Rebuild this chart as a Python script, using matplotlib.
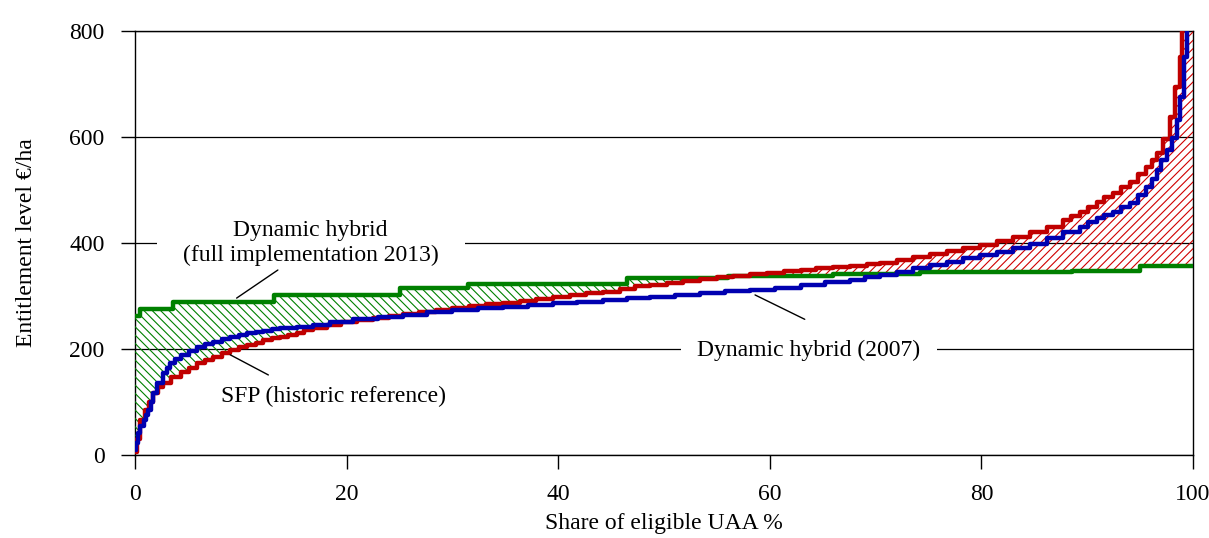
import numpy as np
import matplotlib.pyplot as plt

# step curves (share of UAA %, entitlement EUR/ha)
sfp_x = [0, 0.2, 0.5, 0.9, 1.3, 1.7, 2.2, 2.6, 3.4, 4.3, 5.1, 5.9, 6.6, 7.4, 8.2, 9.0, 9.8,
         10.6, 11.4, 12.1, 12.9, 13.7, 14.5, 15.3, 16.0, 16.8, 18.1, 19.5, 21.0, 22.5, 24.0,
         25.3, 26.8, 28.4, 30.0, 31.6, 33.2, 34.8, 36.4, 37.9, 39.5, 41.1, 42.6, 44.2, 45.8,
         47.3, 48.7, 50.3, 51.8, 53.4, 55.0, 56.5, 58.1, 59.7, 61.3, 62.9, 64.4, 66.0, 67.6,
         69.2, 70.4, 72.0, 73.5, 75.1, 76.7, 78.3, 79.9, 81.5, 83.0, 84.6, 86.2, 87.7, 88.5,
         89.3, 90.1, 90.9, 91.6, 92.4, 93.2, 94.0, 94.8, 95.6, 96.1, 96.6, 97.2, 97.8, 98.3,
         98.8, 99.0, 100]
sfp_y = [5, 30, 66, 85, 100, 117, 128, 136, 147, 157, 165, 173, 179, 185, 192, 198, 203,
         207, 212, 217, 220, 223, 227, 230, 235, 240, 245, 250, 255, 259, 263,
         266, 270, 274, 277, 281, 284, 287, 291, 295, 298, 302, 305, 308, 313,
         318, 321, 325, 329, 332, 335, 338, 341, 344, 347, 349, 352, 355, 357,
         360, 362, 367, 373, 379, 385, 390, 396, 404, 412, 421, 431, 443, 450,
         459, 468, 478, 486, 494, 505, 516, 530, 544, 556, 569, 597, 638, 694,
         751, 1000, 1000]

dh07_x = [0, 0.1, 0.3, 0.5, 0.8, 1.0, 1.2, 1.5, 1.7, 2.1, 2.6, 3.0, 3.3, 3.8, 4.3, 5.1, 5.9,
          6.6, 7.4, 8.2, 9.0, 9.8, 10.6, 11.4, 12.1, 12.9, 13.7, 15.3, 16.8, 18.4, 20.6,
          23.0, 25.3, 27.6, 30.0, 32.4, 34.8, 37.1, 39.5, 41.8, 44.2, 46.5, 48.7, 51.0,
          53.4, 55.8, 58.1, 60.5, 62.9, 65.2, 67.6, 69.0, 70.4, 72.0, 73.5, 75.1, 76.7,
          78.3, 79.9, 81.5, 83.0, 84.6, 86.2, 87.7, 89.3, 90.1, 90.9, 91.6, 92.4, 93.2,
          94.0, 94.8, 95.6, 96.1, 96.6, 97.0, 97.5, 98.0, 98.5, 98.8, 99.1, 99.4, 100]
dh07_y = [10, 23, 41, 55, 66, 75, 85, 100, 117, 136, 155, 165, 173, 182, 189, 197, 204,
          209, 213, 218, 223, 227, 230, 232, 234, 237, 240, 242, 245, 251, 257,
          261, 264, 269, 274, 277, 280, 283, 286, 289, 292, 296, 298, 302,
          306, 309, 311, 316, 321, 326, 330, 335, 340, 346, 352, 358, 365,
          371, 377, 383, 390, 399, 409, 420, 431, 439, 447, 453, 459, 467,
          475, 490, 506, 521, 537, 556, 575, 598, 632, 675, 751, 1000, 1000]

dh13_x = [0, 0.5, 3.6, 13.1, 25.0, 31.5, 46.5, 56, 66, 74.2, 88.6, 95, 100]
dh13_y = [262, 275, 288, 302, 315, 322, 334, 337, 341, 345, 348, 357, 357]

plt.rcParams['font.family'] = ['Liberation Serif', 'DejaVu Serif']
plt.rcParams['font.size'] = 17
plt.rcParams['hatch.linewidth'] = 0.8

fig = plt.figure(figsize=(12.09, 5.38), dpi=100)
ax = fig.add_axes([0.1117, 0.1543, 0.8751, 0.7881])

def on_grid(x, y, grid):
    x = np.asarray(x, float)
    y = np.asarray(y, float)
    return y[np.searchsorted(x, grid, side='right') - 1]

xs = np.unique(np.concatenate([sfp_x, dh07_x, dh13_x]))
red = on_grid(sfp_x, sfp_y, xs)
green = on_grid(dh13_x, dh13_y, xs)

ax.fill_between(xs, green, red, where=green >= red, step='post', facecolor='none',
                edgecolor='#008000', hatch='\\\\\\\\', linewidth=0, zorder=3)
ax.fill_between(xs, green, red, where=red >= green, step='post', facecolor='none',
                edgecolor='#d00000', hatch='////', linewidth=0, zorder=3)

ax.plot(dh13_x, dh13_y, drawstyle='steps-post', color='#008000', lw=3.2, zorder=4)
ax.plot(sfp_x, sfp_y, drawstyle='steps-post', color='#c00000', lw=3.2, zorder=4)
ax.plot(dh07_x, dh07_y, drawstyle='steps-post', color='#0000b0', lw=3.2, zorder=5)

ax.set_xlim(0, 100)
ax.set_ylim(0, 800)
ax.set_xticks([0, 20, 40, 60, 80, 100])
ax.set_yticks([0, 200, 400, 600, 800])
ax.tick_params(direction='out', length=10, width=1)
ax.tick_params(axis='x', pad=11)
ax.tick_params(axis='y', pad=12)
ax.set_axisbelow(True)
ax.grid(axis='y', color='black', lw=0.9)
for s in ax.spines.values():
    s.set_linewidth(1)

ax.set_xlabel('Share of eligible UAA %', labelpad=6)
ax.set_ylabel('Entitlement level €/ha', labelpad=23)

box = dict(facecolor='white', edgecolor='none')
ax.text(16.6, 400, 'Dynamic hybrid\n(full implementation 2013)', ha='center', va='center',
        bbox=dict(box, boxstyle='square,pad=1.1'), zorder=2)
ax.text(63.7, 198, 'Dynamic hybrid (2007)', ha='center', va='center',
        bbox=dict(box, boxstyle='square,pad=0.7'), zorder=2)
ax.text(18.8, 111, 'SFP (historic reference)', ha='center', va='center', zorder=2)

line = dict(arrowstyle='-', color='black', lw=1, shrinkA=0, shrinkB=0)
ax.annotate('', xy=(9.6, 296), xytext=(13.5, 349), arrowprops=line, zorder=6)
ax.annotate('', xy=(9.0, 189), xytext=(12.6, 151), arrowprops=line, zorder=6)
ax.annotate('', xy=(58.6, 302), xytext=(63.3, 256), arrowprops=line, zorder=6)

fig.savefig('out.png', dpi=100)
